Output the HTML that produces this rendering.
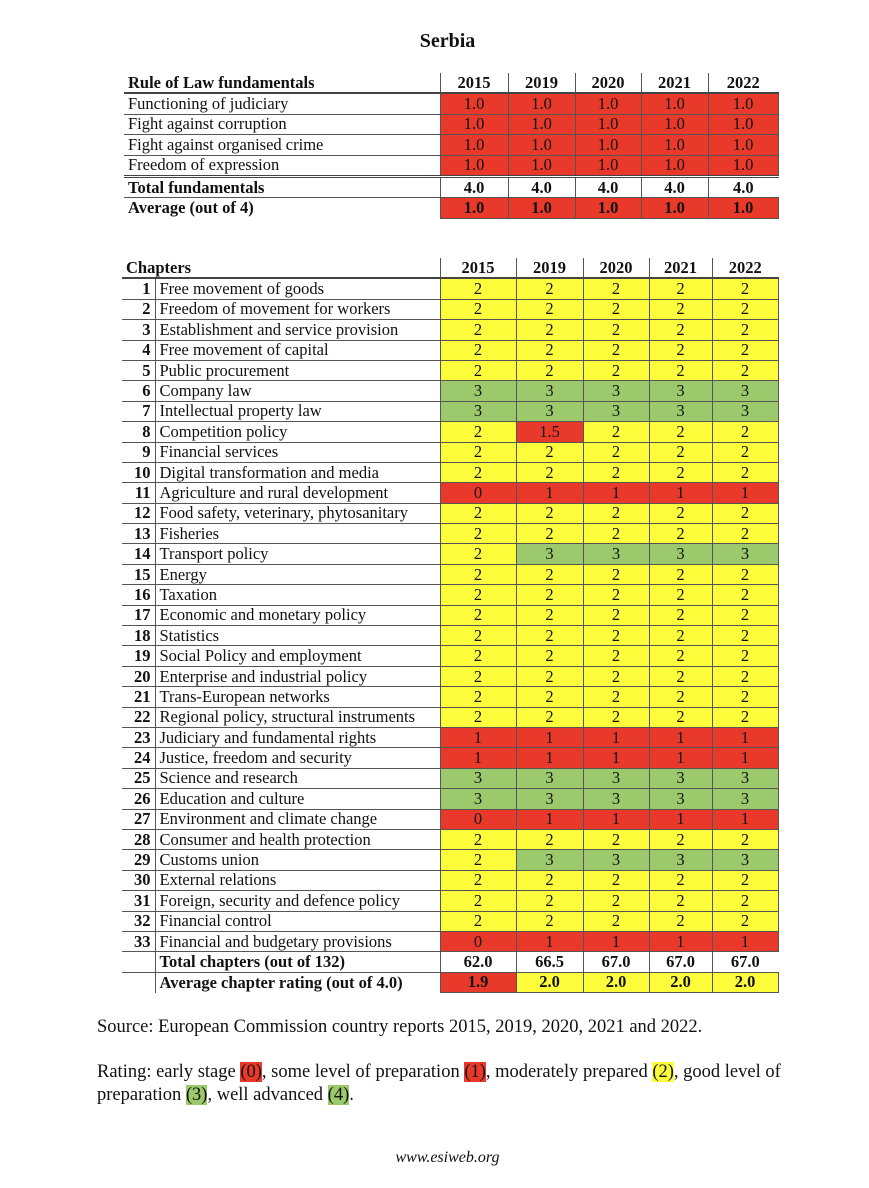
<!DOCTYPE html>
<html><head><meta charset="utf-8"><style>
body{margin:0;width:869px;height:1188px;background:#fff;position:relative;font-family:"Liberation Serif",serif;color:#111;overflow:hidden}
.t{position:absolute;font-size:15px;line-height:1}
table{border-collapse:collapse;table-layout:fixed;position:absolute;font-size:16.5px}
td{padding:0;height:19.4px;line-height:18px;border:1px solid #555;white-space:nowrap;overflow:hidden}
td.y{text-align:center}
.R{background:#e8392a}.Y{background:#fdfd3c}.G{background:#9cc96b}
.b{font-weight:bold}
.h td{border-top:none;border-bottom:2px solid #444}
td.n{text-align:right;padding-right:4px;font-weight:bold}
td.l{padding-left:4px}
.dbl td{border-top:3px double #444}
</style></head><body>
<div class="t b" style="left:0;width:895px;text-align:center;top:31px;font-size:20px">Serbia</div>

<table style="left:124px;top:73px;width:654px">
<colgroup><col style="width:316px"><col style="width:68px"><col style="width:67px"><col style="width:66px"><col style="width:67px"><col style="width:70px"></colgroup>
<tr class="h b"><td class="l" style="border-left:none">Rule of Law fundamentals</td><td class="y">2015</td><td class="y">2019</td><td class="y">2020</td><td class="y">2021</td><td class="y" style="border-right:none">2022</td></tr>
<tr><td class="l" style="border-left:none">Functioning of judiciary</td><td class="y R">1.0</td><td class="y R">1.0</td><td class="y R">1.0</td><td class="y R">1.0</td><td class="y R">1.0</td></tr>
<tr><td class="l" style="border-left:none">Fight against corruption</td><td class="y R">1.0</td><td class="y R">1.0</td><td class="y R">1.0</td><td class="y R">1.0</td><td class="y R">1.0</td></tr>
<tr><td class="l" style="border-left:none">Fight against organised crime</td><td class="y R">1.0</td><td class="y R">1.0</td><td class="y R">1.0</td><td class="y R">1.0</td><td class="y R">1.0</td></tr>
<tr><td class="l" style="border-left:none">Freedom of expression</td><td class="y R">1.0</td><td class="y R">1.0</td><td class="y R">1.0</td><td class="y R">1.0</td><td class="y R">1.0</td></tr>
<tr class="dbl b"><td class="l" style="border-left:none">Total fundamentals</td><td class="y">4.0</td><td class="y">4.0</td><td class="y">4.0</td><td class="y">4.0</td><td class="y" style="border-right:none">4.0</td></tr>
<tr class="b"><td class="l" style="border-left:none;border-bottom:none">Average (out of 4)</td><td class="y R">1.0</td><td class="y R">1.0</td><td class="y R">1.0</td><td class="y R">1.0</td><td class="y R">1.0</td></tr>
</table>

<table style="left:122px;top:258px;width:656px">
<colgroup><col style="width:33px"><col style="width:285px"><col style="width:76px"><col style="width:67px"><col style="width:66px"><col style="width:63px"><col style="width:66px"></colgroup>
<tr class="h b"><td colspan="2" class="l" style="border-left:none">Chapters</td><td class="y">2015</td><td class="y">2019</td><td class="y">2020</td><td class="y">2021</td><td class="y" style="border-right:none">2022</td></tr>
<tr><td class="n" style="border-left:none">1</td><td class="l">Free movement of goods</td><td class="y Y">2</td><td class="y Y">2</td><td class="y Y">2</td><td class="y Y">2</td><td class="y Y">2</td></tr>
<tr><td class="n" style="border-left:none">2</td><td class="l">Freedom of movement for workers</td><td class="y Y">2</td><td class="y Y">2</td><td class="y Y">2</td><td class="y Y">2</td><td class="y Y">2</td></tr>
<tr><td class="n" style="border-left:none">3</td><td class="l">Establishment and service provision</td><td class="y Y">2</td><td class="y Y">2</td><td class="y Y">2</td><td class="y Y">2</td><td class="y Y">2</td></tr>
<tr><td class="n" style="border-left:none">4</td><td class="l">Free movement of capital</td><td class="y Y">2</td><td class="y Y">2</td><td class="y Y">2</td><td class="y Y">2</td><td class="y Y">2</td></tr>
<tr><td class="n" style="border-left:none">5</td><td class="l">Public procurement</td><td class="y Y">2</td><td class="y Y">2</td><td class="y Y">2</td><td class="y Y">2</td><td class="y Y">2</td></tr>
<tr><td class="n" style="border-left:none">6</td><td class="l">Company law</td><td class="y G">3</td><td class="y G">3</td><td class="y G">3</td><td class="y G">3</td><td class="y G">3</td></tr>
<tr><td class="n" style="border-left:none">7</td><td class="l">Intellectual property law</td><td class="y G">3</td><td class="y G">3</td><td class="y G">3</td><td class="y G">3</td><td class="y G">3</td></tr>
<tr><td class="n" style="border-left:none">8</td><td class="l">Competition policy</td><td class="y Y">2</td><td class="y R">1.5</td><td class="y Y">2</td><td class="y Y">2</td><td class="y Y">2</td></tr>
<tr><td class="n" style="border-left:none">9</td><td class="l">Financial services</td><td class="y Y">2</td><td class="y Y">2</td><td class="y Y">2</td><td class="y Y">2</td><td class="y Y">2</td></tr>
<tr><td class="n" style="border-left:none">10</td><td class="l">Digital transformation and media</td><td class="y Y">2</td><td class="y Y">2</td><td class="y Y">2</td><td class="y Y">2</td><td class="y Y">2</td></tr>
<tr><td class="n" style="border-left:none">11</td><td class="l">Agriculture and rural development</td><td class="y R">0</td><td class="y R">1</td><td class="y R">1</td><td class="y R">1</td><td class="y R">1</td></tr>
<tr><td class="n" style="border-left:none">12</td><td class="l">Food safety, veterinary, phytosanitary</td><td class="y Y">2</td><td class="y Y">2</td><td class="y Y">2</td><td class="y Y">2</td><td class="y Y">2</td></tr>
<tr><td class="n" style="border-left:none">13</td><td class="l">Fisheries</td><td class="y Y">2</td><td class="y Y">2</td><td class="y Y">2</td><td class="y Y">2</td><td class="y Y">2</td></tr>
<tr><td class="n" style="border-left:none">14</td><td class="l">Transport policy</td><td class="y Y">2</td><td class="y G">3</td><td class="y G">3</td><td class="y G">3</td><td class="y G">3</td></tr>
<tr><td class="n" style="border-left:none">15</td><td class="l">Energy</td><td class="y Y">2</td><td class="y Y">2</td><td class="y Y">2</td><td class="y Y">2</td><td class="y Y">2</td></tr>
<tr><td class="n" style="border-left:none">16</td><td class="l">Taxation</td><td class="y Y">2</td><td class="y Y">2</td><td class="y Y">2</td><td class="y Y">2</td><td class="y Y">2</td></tr>
<tr><td class="n" style="border-left:none">17</td><td class="l">Economic and monetary policy</td><td class="y Y">2</td><td class="y Y">2</td><td class="y Y">2</td><td class="y Y">2</td><td class="y Y">2</td></tr>
<tr><td class="n" style="border-left:none">18</td><td class="l">Statistics</td><td class="y Y">2</td><td class="y Y">2</td><td class="y Y">2</td><td class="y Y">2</td><td class="y Y">2</td></tr>
<tr><td class="n" style="border-left:none">19</td><td class="l">Social Policy and employment</td><td class="y Y">2</td><td class="y Y">2</td><td class="y Y">2</td><td class="y Y">2</td><td class="y Y">2</td></tr>
<tr><td class="n" style="border-left:none">20</td><td class="l">Enterprise and industrial policy</td><td class="y Y">2</td><td class="y Y">2</td><td class="y Y">2</td><td class="y Y">2</td><td class="y Y">2</td></tr>
<tr><td class="n" style="border-left:none">21</td><td class="l">Trans-European networks</td><td class="y Y">2</td><td class="y Y">2</td><td class="y Y">2</td><td class="y Y">2</td><td class="y Y">2</td></tr>
<tr><td class="n" style="border-left:none">22</td><td class="l">Regional policy, structural instruments</td><td class="y Y">2</td><td class="y Y">2</td><td class="y Y">2</td><td class="y Y">2</td><td class="y Y">2</td></tr>
<tr><td class="n" style="border-left:none">23</td><td class="l">Judiciary and fundamental rights</td><td class="y R">1</td><td class="y R">1</td><td class="y R">1</td><td class="y R">1</td><td class="y R">1</td></tr>
<tr><td class="n" style="border-left:none">24</td><td class="l">Justice, freedom and security</td><td class="y R">1</td><td class="y R">1</td><td class="y R">1</td><td class="y R">1</td><td class="y R">1</td></tr>
<tr><td class="n" style="border-left:none">25</td><td class="l">Science and research</td><td class="y G">3</td><td class="y G">3</td><td class="y G">3</td><td class="y G">3</td><td class="y G">3</td></tr>
<tr><td class="n" style="border-left:none">26</td><td class="l">Education and culture</td><td class="y G">3</td><td class="y G">3</td><td class="y G">3</td><td class="y G">3</td><td class="y G">3</td></tr>
<tr><td class="n" style="border-left:none">27</td><td class="l">Environment and climate change</td><td class="y R">0</td><td class="y R">1</td><td class="y R">1</td><td class="y R">1</td><td class="y R">1</td></tr>
<tr><td class="n" style="border-left:none">28</td><td class="l">Consumer and health protection</td><td class="y Y">2</td><td class="y Y">2</td><td class="y Y">2</td><td class="y Y">2</td><td class="y Y">2</td></tr>
<tr><td class="n" style="border-left:none">29</td><td class="l">Customs union</td><td class="y Y">2</td><td class="y G">3</td><td class="y G">3</td><td class="y G">3</td><td class="y G">3</td></tr>
<tr><td class="n" style="border-left:none">30</td><td class="l">External relations</td><td class="y Y">2</td><td class="y Y">2</td><td class="y Y">2</td><td class="y Y">2</td><td class="y Y">2</td></tr>
<tr><td class="n" style="border-left:none">31</td><td class="l">Foreign, security and defence policy</td><td class="y Y">2</td><td class="y Y">2</td><td class="y Y">2</td><td class="y Y">2</td><td class="y Y">2</td></tr>
<tr><td class="n" style="border-left:none">32</td><td class="l">Financial control</td><td class="y Y">2</td><td class="y Y">2</td><td class="y Y">2</td><td class="y Y">2</td><td class="y Y">2</td></tr>
<tr><td class="n" style="border-left:none">33</td><td class="l">Financial and budgetary provisions</td><td class="y R">0</td><td class="y R">1</td><td class="y R">1</td><td class="y R">1</td><td class="y R">1</td></tr>
<tr class="b"><td style="border-left:none"></td><td class="l">Total chapters (out of 132)</td><td class="y">62.0</td><td class="y">66.5</td><td class="y">67.0</td><td class="y">67.0</td><td class="y" style="border-right:none">67.0</td></tr>
<tr class="b"><td style="border-left:none;border-bottom:none"></td><td class="l" style="border-bottom:none">Average chapter rating (out of 4.0)</td><td class="y R">1.9</td><td class="y Y">2.0</td><td class="y Y">2.0</td><td class="y Y">2.0</td><td class="y Y">2.0</td></tr>
</table>

<div class="t" style="left:97px;top:1018px;font-size:18.5px">Source: European Commission country reports 2015, 2019, 2020, 2021 and 2022.</div>
<div class="t" style="left:97px;top:1061px;font-size:18.5px;line-height:23px;width:712px">Rating: early stage <span class="R">(0)</span>, some level of preparation <span class="R">(1)</span>, moderately prepared <span class="Y">(2)</span>, good level of preparation <span class="G">(3)</span>, well advanced <span class="G">(4)</span>.</div>
<div class="t" style="left:0;width:895px;text-align:center;top:1150px;font-style:italic;font-size:16px">www.esiweb.org</div>
</body></html>
